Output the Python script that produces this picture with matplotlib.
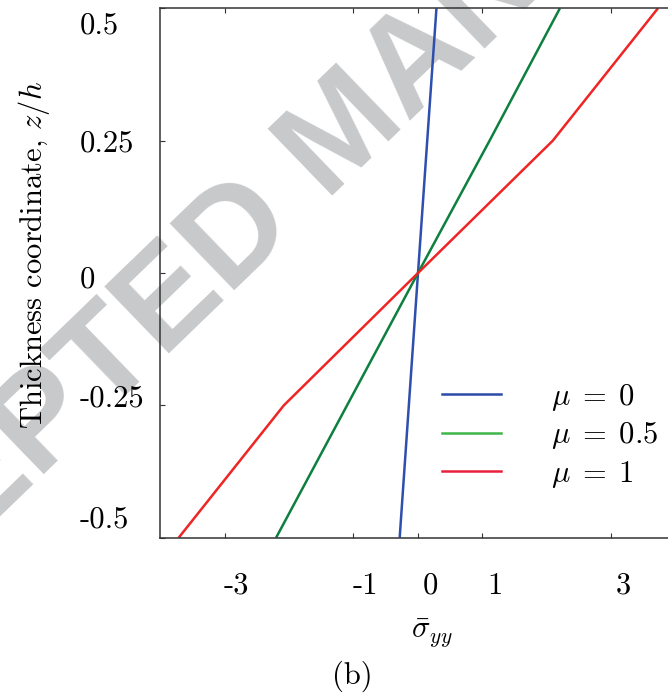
import matplotlib
matplotlib.use('Agg')
import matplotlib.pyplot as plt
from matplotlib.lines import Line2D
from matplotlib.transforms import ScaledTranslation

# thickness coordinate and stress values
z = [-0.5, -0.25, 0.0, 0.25, 0.5]
sigma_mu0 = [-0.284, -0.142, 0.0, 0.143, 0.286]
sigma_mu05 = [-2.20, -1.10, 0.0, 1.11, 2.20]
sigma_mu1 = [-3.71, -2.08, 0.0, 2.09, 3.72]

series_labels = [r'$\mu\;=\;0$', r'$\mu\;=\;0.5$', r'$\mu\;=\;1$']
line_colors = ['#2f4fae', '#0d8040', '#ee2524']
legend_colors = ['#2b4ba7', '#3db54a', '#e8213d']

x_ticks = [-3, -1, 0, 1, 3]
x_tick_labels = ['-3', '-1', '0', '1', '3']
y_ticks = [-0.5, -0.25, 0.0, 0.25, 0.5]
y_tick_labels = ['-0.5', '-0.25', '0', '0.25', '0.5']

plt.rcParams['font.family'] = 'serif'
plt.rcParams['font.serif'] = ['cmr10']
plt.rcParams['mathtext.fontset'] = 'cm'
plt.rcParams['axes.unicode_minus'] = False
plt.rcParams['font.size'] = 22

W, H = 668, 694
fig = plt.figure(figsize=(W / 100, H / 100), dpi=100)

# watermark sits behind the axes
fig.text(-239.3 / W, 1 - 748.7 / H, 'ACCEPTED MANUSCRIPT', family='Liberation Sans',
         weight='bold', fontsize=98, color='#c8c9cb', rotation=44,
         rotation_mode='anchor', ha='left', va='baseline', zorder=-1)

ax = fig.add_axes([160 / W, 1 - 537.7 / H, (676 - 160) / W, (537.7 - 8.3) / H])
ax.patch.set_alpha(0)

for s, c in zip([sigma_mu0, sigma_mu05, sigma_mu1], line_colors):
    ax.plot(s, z, color=c, lw=1.8, solid_capstyle='butt')

ax.set_xlim(-4, 4)
ax.set_ylim(-0.5, 0.5)

for sp in ax.spines.values():
    sp.set_color('#333333')
    sp.set_linewidth(1.1)

ax.set_xticks(x_ticks)
ax.set_xticklabels(x_tick_labels)
ax.set_yticks(y_ticks)
ax.set_yticklabels(y_tick_labels)
ax.tick_params(axis='x', direction='in', top=True, length=3.8, width=0.8,
               color='#333333', pad=25)
ax.tick_params(axis='y', direction='in', length=3.8, width=0.8,
               color='#333333', pad=57.6)

# x tick labels sit a bit right of their ticks
for lab in ax.get_xticklabels():
    lab.set_transform(lab.get_transform() + ScaledTranslation(0.12, 0, fig.dpi_scale_trans))

# y tick labels are left aligned and nudged like the original
y_shift = [0.21, 0.10, -0.04, 0.0, -0.14]
for lab, dy in zip(ax.get_yticklabels(), y_shift):
    lab.set_horizontalalignment('left')
    lab.set_transform(lab.get_transform() + ScaledTranslation(0, dy, fig.dpi_scale_trans))

ax.set_xlabel(r'$\bar{\sigma}_{yy}$', va='top')
ax.xaxis.set_label_coords((432 - 160) / 516, (537.7 - 617) / 529.7)
ax.set_ylabel(r'Thickness coordinate, $z/h$')
ax.yaxis.set_label_coords((52 - 160) / 516, (537.7 - 255) / 529.7)

handles = [Line2D([], [], color=c, lw=1.8) for c in legend_colors]
ax.legend(handles, series_labels, loc='upper left', frameon=False,
          bbox_to_anchor=((442 - 160) / 516, (537.7 - 382) / 529.7),
          borderpad=0, borderaxespad=0, handlelength=1.93, handletextpad=1.65,
          labelspacing=0.24)

fig.text(352 / W, 1 - 676 / H, '(b)', ha='center', va='center')

fig.savefig('out.png', dpi=100)
